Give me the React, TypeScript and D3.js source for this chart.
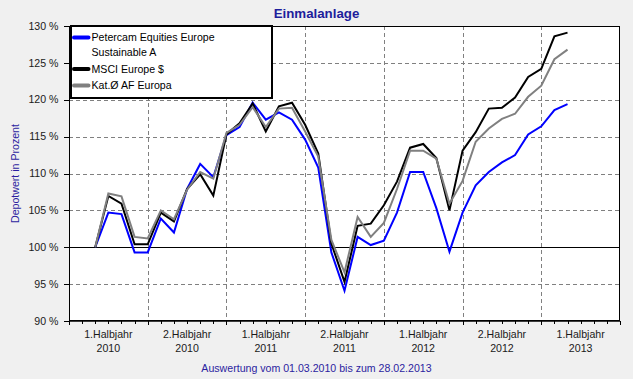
import React from "react";
import * as d3 from "d3";

const dates = [
  "2010-03", "2010-04", "2010-05", "2010-06", "2010-07", "2010-08", "2010-09", "2010-10", "2010-11", "2010-12",
  "2011-01", "2011-02", "2011-03", "2011-04", "2011-05", "2011-06", "2011-07", "2011-08", "2011-09", "2011-10",
  "2011-11", "2011-12", "2012-01", "2012-02", "2012-03", "2012-04", "2012-05", "2012-06", "2012-07", "2012-08",
  "2012-09", "2012-10", "2012-11", "2012-12", "2013-01", "2013-02", "2013-03",
];

const petercam = [
  100.0, 104.7, 104.5, 99.3, 99.3, 103.9, 102.0, 107.9, 111.3, 109.5,
  115.2, 116.3, 119.6, 117.3, 118.3, 117.3, 114.6, 110.8, 99.3, 94.1,
  101.4, 100.3, 100.9, 104.7, 110.2, 110.2, 105.3, 99.4, 104.7, 108.4,
  110.2, 111.5, 112.5, 115.3, 116.4, 118.6, 119.4,
];

const msci = [
  100.0, 106.95, 105.9, 100.4, 100.4, 104.7, 103.5, 107.9, 109.9, 107.0,
  115.3, 116.8, 119.5, 115.7, 119.1, 119.6, 116.6, 112.7, 100.5, 95.3,
  102.9, 103.2, 105.7, 108.9, 113.5, 114.0, 112.1, 105.0, 113.1, 115.6,
  118.8, 118.9, 120.3, 123.1, 124.2, 128.6, 129.1,
];

const katAF = [
  100.0, 107.3, 106.9, 101.4, 101.2, 105.0, 103.8, 107.8, 110.2, 109.3,
  115.5, 116.6, 119.0, 116.3, 118.8, 118.9, 115.7, 112.3, 101.0, 96.6,
  104.1, 101.4, 103.3, 107.9, 113.1, 113.1, 112.0, 105.9, 109.0, 114.3,
  116.1, 117.4, 118.1, 120.4, 121.9, 125.5, 126.8,
];

const yTicks = [90, 95, 100, 105, 110, 115, 120, 125, 130];
const halfYearLabels = [
  ["1.Halbjahr", "2010"],
  ["2.Halbjahr", "2010"],
  ["1.Halbjahr", "2011"],
  ["2.Halbjahr", "2011"],
  ["1.Halbjahr", "2012"],
  ["2.Halbjahr", "2012"],
  ["1.Halbjahr", "2013"],
];

const seriesNames = ["Petercam Equities Europe|Sustainable A", "MSCI Europe $", "Kat.Ø AF Europa"];
const seriesColors = ["#0000ff", "#000000", "#808080"];
const title = "Einmalanlage";
const yLabel = "Depotwert in Prozent";
const footer = "Auswertung vom 01.03.2010 bis zum 28.02.2013";

const W = 633;
const H = 379;
const L = 69;
const R = 620;
const T = 26;
const B = 321;
const FONT = "'Liberation Sans', Arial, sans-serif";

function monthIndex(s: string) {
  const [y, m] = s.split("-").map(Number);
  return (y - 2010) * 12 + (m - 1);
}

export default function App() {
  const x = d3.scaleLinear().domain([0, 42]).range([L, R]);
  const y = d3.scaleLinear().domain([90, 130]).range([B, T]);
  const line = d3
    .line<number>()
    .x((_, i) => x(monthIndex(dates[i])))
    .y((d) => y(d));
  const series = [petercam, msci, katAF];
  const majorX = d3.range(0, 43, 6);
  const minorX = d3.range(0, 43, 1);

  const legendEntries = [
    { y: 37.5, lines: seriesNames[0].split("|") },
    { y: 69, lines: seriesNames[1].split("|") },
    { y: 85.5, lines: seriesNames[2].split("|") },
  ];

  return (
    <svg
      width={W}
      height={H}
      style={{ position: "fixed", left: 0, top: 0, background: "#f0f0f0" }}
      fontFamily={FONT}
    >
      <rect x={0} y={0} width={W} height={H} fill="#f0f0f0" />
      <text x={316.5} y={13.5} dy="0.35em" textAnchor="middle" fontSize={13.3} fontWeight="bold" fill="#1e1e9c">
        {title}
      </text>
      <rect x={L} y={T} width={R - L} height={B - T} fill="#ffffff" />
      {yTicks
        .filter((v) => v !== 90 && v !== 130 && v !== 100)
        .map((v) => (
          <line key={"hg" + v} x1={L} x2={R} y1={Math.round(y(v)) + 0.5} y2={Math.round(y(v)) + 0.5} stroke="#808080" strokeDasharray="4,3" />
        ))}
      {majorX
        .filter((m) => m !== 0 && m !== 42)
        .map((m) => (
          <line key={"vg" + m} x1={Math.round(x(m)) + 0.5} x2={Math.round(x(m)) + 0.5} y1={T} y2={B} stroke="#808080" strokeDasharray="4,3" />
        ))}
      <line x1={L} x2={R} y1={Math.round(y(100)) + 0.5} y2={Math.round(y(100)) + 0.5} stroke="#000" strokeWidth={1} />
      {series.map((s, k) => (
        <path key={"s" + k} d={line(s) || ""} fill="none" stroke={seriesColors[k]} strokeWidth={2} />
      ))}
      <rect x={L + 0.5} y={T + 0.5} width={R - L - 1} height={B - T - 1} fill="none" stroke="#000" />
      <line x1={L} x2={R} y1={B} y2={B} stroke="#000" strokeWidth={1.5} />
      {yTicks.map((v) => (
        <g key={"yt" + v}>
          <line x1={L - 5} x2={L} y1={Math.round(y(v)) + 0.5} y2={Math.round(y(v)) + 0.5} stroke="#000" />
          <text x={58.5} y={y(v)} dy="0.35em" textAnchor="end" fontSize={10.6} fill="#1a1a1a">
            {v + " %"}
          </text>
        </g>
      ))}
      {minorX.map((m) => (
        <line
          key={"xt" + m}
          x1={Math.round(x(m)) + 0.5}
          x2={Math.round(x(m)) + 0.5}
          y1={B}
          y2={B + (m % 6 === 0 ? 4 : 3)}
          stroke="#000"
        />
      ))}
      {halfYearLabels.map((lab, i) => {
        const cx = (x(i * 6) + x(i * 6 + 6)) / 2;
        return (
          <g key={"xl" + i}>
            <text x={cx} y={334} dy="0.35em" textAnchor="middle" fontSize={10.6} fill="#1a1a1a">
              {lab[0]}
            </text>
            <text x={cx} y={348.5} dy="0.35em" textAnchor="middle" fontSize={10.6} fill="#1a1a1a">
              {lab[1]}
            </text>
          </g>
        );
      })}
      <text
        transform={`translate(15,${(T + B) / 2}) rotate(-90)`}
        dy="0.35em"
        textAnchor="middle"
        fontSize={10.6}
        fill="#2c1ea0"
      >
        {yLabel}
      </text>
      <text x={316.5} y={368} dy="0.35em" textAnchor="middle" fontSize={10.6} fill="#2c1ea0">
        {footer}
      </text>
      <rect x={71} y={26} width={201} height={72} fill="#ffffff" stroke="#000" strokeWidth={2} />
      {legendEntries.map((e, k) => (
        <g key={"lg" + k}>
          <line x1={74} x2={88.5} y1={e.y} y2={e.y} stroke={seriesColors[k]} strokeWidth={4} strokeLinecap="round" />
          {e.lines.map((t, j) => (
            <text key={j} x={91.5} y={e.y + j * 14.5} dy="0.35em" fontSize={10.6} fill="#000">
              {t}
            </text>
          ))}
        </g>
      ))}
    </svg>
  );
}
